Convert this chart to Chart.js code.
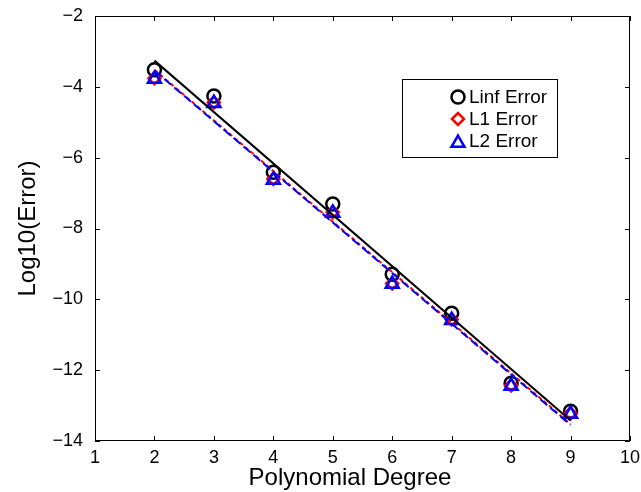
<!DOCTYPE html>
<html>
<head>
<meta charset="utf-8">
<script src="https://cdn.jsdelivr.net/npm/chart.js@4.4.1/dist/chart.umd.min.js"></script>
<style>
  html, body { margin: 0; padding: 0; background: #fff; overflow: hidden; }
  canvas { display: block; }
</style>
</head>
<body>
<canvas id="errChart" width="641" height="492"></canvas>
<script>
// Data
const degrees = [2, 3, 4, 5, 6, 7, 8, 9];
const linfErr = [-3.52, -4.26, -6.41, -7.31, -9.29, -10.39, -12.37, -13.16];
const l1Err = [-3.76, -4.44, -6.60, -7.54, -9.55, -10.57, -12.43, -13.22];
const l2Err = [-3.78, -4.46, -6.63, -7.56, -9.57, -10.59, -12.45, -13.24];

// end points of the fitted lines
const fitDegrees = [2, 9];
const linfFit = [-3.26, -13.42];
const l1Fit = [-3.52, -13.52];
const l2Fit = [-3.54, -13.55];

const xTicks = [1, 2, 3, 4, 5, 6, 7, 8, 9, 10];
const yTicks = [-14, -12, -10, -8, -6, -4, -2];

const legendLabels = ['Linf Error', 'L1 Error', 'L2 Error'];

const FONT = '"Liberation Sans", Arial, Helvetica, sans-serif';

function pts(xs, ys) {
    return xs.map((x, i) => ({ x: x, y: ys[i] }));
}

// box, inward ticks, titles and legend (matlab look)
const matlabFrame = {
    id: 'matlabFrame',
    afterDraw(chart) {
        const ctx = chart.ctx;
        const a = chart.chartArea;
        const xs = chart.scales.x;
        const ys = chart.scales.y;
        const tl = 5;

        ctx.save();
        ctx.strokeStyle = '#000';
        ctx.lineWidth = 1;
        ctx.strokeRect(a.left + 0.5, a.top + 0.5, a.right - a.left - 1, a.bottom - a.top - 1);

        ctx.beginPath();
        xTicks.forEach(v => {
            const px = Math.round(xs.getPixelForValue(v)) + 0.5;
            ctx.moveTo(px, a.bottom);
            ctx.lineTo(px, a.bottom - tl);
            ctx.moveTo(px, a.top);
            ctx.lineTo(px, a.top + tl);
        });
        yTicks.forEach(v => {
            const py = Math.round(ys.getPixelForValue(v)) + 0.5;
            ctx.moveTo(a.left, py);
            ctx.lineTo(a.left + tl, py);
            ctx.moveTo(a.right, py);
            ctx.lineTo(a.right - tl, py);
        });
        ctx.stroke();

        // axis titles
        ctx.fillStyle = '#000';
        ctx.font = '24px ' + FONT;
        ctx.textAlign = 'center';
        ctx.textBaseline = 'middle';
        ctx.fillText('Polynomial Degree', 350, 478);
        ctx.save();
        ctx.translate(28, (a.top + a.bottom) / 2);
        ctx.rotate(-Math.PI / 2);
        ctx.fillText('Log10(Error)', 0, 0);
        ctx.restore();

        // legend
        const bx = 402, by = 79, bw = 155, bh = 78;
        ctx.fillStyle = '#fff';
        ctx.fillRect(bx, by, bw, bh);
        ctx.strokeStyle = '#000';
        ctx.lineWidth = 1;
        ctx.strokeRect(bx + 0.5, by + 0.5, bw, bh);

        const rows = [97, 119, 141];
        const styles = [
            { style: 'circle', color: '#000', r: 6.5 },
            { style: 'rectRot', color: '#ff0000', r: 6 },
            { style: 'triangle', color: '#0000ff', r: 7.5 }
        ];
        ctx.font = '19px ' + FONT;
        ctx.textAlign = 'left';
        legendLabels.forEach((lab, i) => {
            const s = styles[i];
            ctx.strokeStyle = s.color;
            ctx.fillStyle = 'rgba(0,0,0,0)';
            ctx.lineWidth = 2.5;
            Chart.helpers.drawPoint(ctx, { pointStyle: s.style, radius: s.r, borderWidth: 2.5, rotation: 0 },
                458, rows[i] + (s.style === 'triangle' ? 2 : 0));
            ctx.fillStyle = '#000';
            ctx.fillText(lab, 469, rows[i] + 1);
        });
        ctx.restore();
    }
};

const ctx = document.getElementById('errChart').getContext('2d');
new Chart(ctx, {
    type: 'scatter',
    data: {
        datasets: [
            {
                label: 'L2 fit',
                data: pts(fitDegrees, l2Fit),
                showLine: true,
                borderColor: '#0000ff',
                borderWidth: 2,
                borderDash: [9, 4],
                pointRadius: 0
            },
            {
                label: 'L1 fit',
                data: pts(fitDegrees, l1Fit),
                showLine: true,
                borderColor: '#ff0000',
                borderWidth: 2,
                borderDash: [4, 3],
                pointRadius: 0
            },
            {
                label: 'Linf fit',
                data: pts(fitDegrees, linfFit),
                showLine: true,
                borderColor: '#000',
                borderWidth: 2,
                pointRadius: 0
            },
            {
                label: legendLabels[2],
                data: pts(degrees, l2Err),
                pointStyle: 'triangle',
                pointRadius: 7.5,
                borderColor: '#0000ff',
                backgroundColor: 'rgba(0,0,0,0)',
                borderWidth: 2.5
            },
            {
                label: legendLabels[1],
                data: pts(degrees, l1Err),
                pointStyle: 'rectRot',
                pointRadius: 6,
                borderColor: '#ff0000',
                backgroundColor: 'rgba(0,0,0,0)',
                borderWidth: 2.5
            },
            {
                label: legendLabels[0],
                data: pts(degrees, linfErr),
                pointStyle: 'circle',
                pointRadius: 6.5,
                borderColor: '#000',
                backgroundColor: 'rgba(0,0,0,0)',
                borderWidth: 2.5
            }
        ]
    },
    options: {
        responsive: false,
        animation: false,
        layout: { padding: { top: 16, right: 11, left: 0, bottom: 0 } },
        plugins: {
            legend: { display: false },
            tooltip: { enabled: false }
        },
        scales: {
            x: {
                type: 'linear',
                min: 1,
                max: 10,
                afterFit: s => {
                    s.height = 51;
                    s.paddingLeft = 0;
                    s.paddingRight = 0;
                },
                afterBuildTicks: s => { s.ticks = xTicks.map(v => ({ value: v })); },
                grid: { display: false, drawTicks: false },
                border: { display: false },
                ticks: {
                    color: '#000',
                    padding: 6,
                    maxRotation: 0,
                    font: { family: FONT, size: 18 }
                }
            },
            y: {
                min: -14,
                max: -2,
                afterFit: s => {
                    s.width = 95;
                    s.paddingTop = 0;
                    s.paddingBottom = 0;
                },
                afterBuildTicks: s => { s.ticks = yTicks.map(v => ({ value: v })); },
                grid: { display: false, drawTicks: false },
                border: { display: false },
                ticks: {
                    color: '#000',
                    padding: 12,
                    font: { family: FONT, size: 18 },
                    callback: v => String(v).replace('-', '\u2212')
                }
            }
        }
    },
    plugins: [matlabFrame]
});
</script>
</body>
</html>
